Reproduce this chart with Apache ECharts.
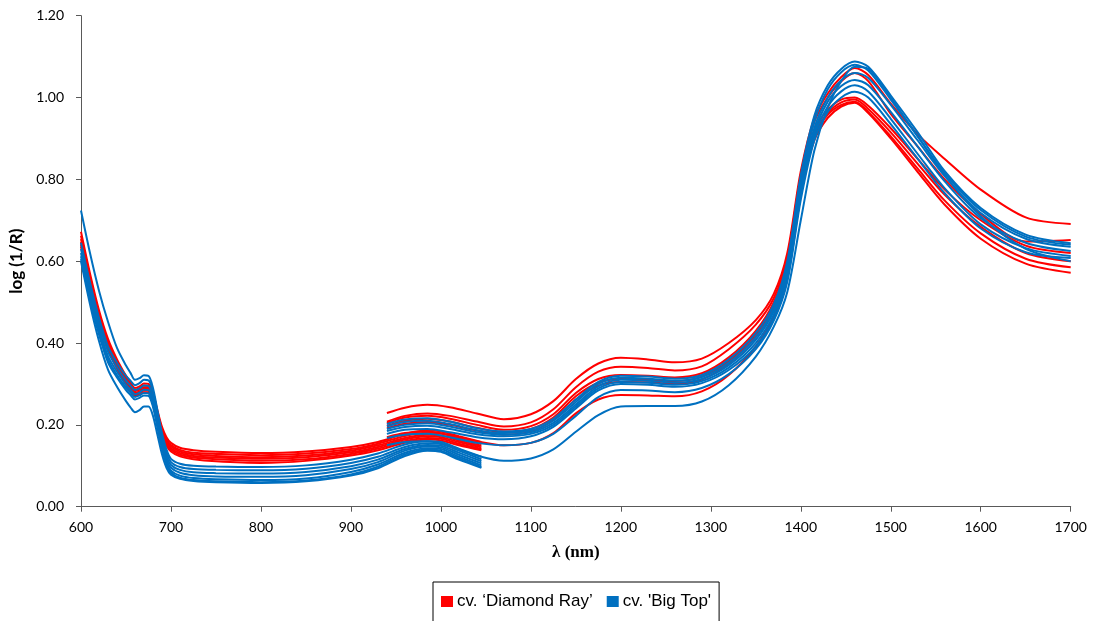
<!DOCTYPE html>
<html>
<head>
<meta charset="utf-8">
<script src="https://cdn.jsdelivr.net/npm/echarts@6/dist/echarts.min.js"></script>
<style>
html,body{margin:0;padding:0;background:#fff;}
#chart{width:1094px;height:621px;}
</style>
</head>
<body>
<div id="chart"></div>
<script>
// Wavelength grids (nm): detector 1 (VIS) and detector 2 (NIR)
const W1 = [600, 610, 620, 630, 640, 650, 655, 660, 665, 670, 675, 680, 685, 690, 695, 700, 710, 725, 750, 800, 850, 900, 930, 960, 985, 1000, 1020, 1045];
const W2 = [940, 960, 985, 1010, 1040, 1070, 1100, 1125, 1150, 1175, 1200, 1230, 1260, 1290, 1320, 1350, 1370, 1385, 1400, 1415, 1430, 1445, 1460, 1475, 1500, 1530, 1560, 1600, 1650, 1700];

const SERIES_RED = "cv. \u2018Diamond Ray\u2019";
const SERIES_BLUE = "cv. 'Big Top'";

// cv. 'Diamond Ray' samples (detector 1)
const DR1_A = [0.672, 0.570, 0.480, 0.410, 0.360, 0.320, 0.304, 0.290, 0.294, 0.301, 0.300, 0.278, 0.235, 0.195, 0.170, 0.156, 0.144, 0.138, 0.134, 0.131, 0.135, 0.146, 0.158, 0.178, 0.186, 0.184, 0.172, 0.158];
const DR2_A = [0.662, 0.562, 0.473, 0.404, 0.355, 0.315, 0.299, 0.286, 0.290, 0.296, 0.295, 0.273, 0.230, 0.190, 0.165, 0.151, 0.139, 0.132, 0.129, 0.126, 0.130, 0.141, 0.154, 0.173, 0.181, 0.179, 0.167, 0.153];
const DR3_A = [0.654, 0.555, 0.467, 0.399, 0.350, 0.310, 0.294, 0.282, 0.286, 0.292, 0.291, 0.269, 0.226, 0.186, 0.161, 0.147, 0.135, 0.128, 0.124, 0.121, 0.125, 0.137, 0.150, 0.168, 0.176, 0.174, 0.162, 0.149];
const DR4_A = [0.647, 0.549, 0.461, 0.394, 0.345, 0.306, 0.290, 0.278, 0.282, 0.288, 0.287, 0.265, 0.222, 0.182, 0.157, 0.143, 0.131, 0.124, 0.120, 0.117, 0.121, 0.133, 0.146, 0.164, 0.172, 0.170, 0.158, 0.145];
const DR5_A = [0.641, 0.543, 0.456, 0.389, 0.341, 0.302, 0.286, 0.275, 0.279, 0.284, 0.283, 0.261, 0.218, 0.178, 0.153, 0.139, 0.127, 0.120, 0.116, 0.112, 0.116, 0.129, 0.142, 0.160, 0.168, 0.166, 0.154, 0.141];
const DR6_A = [0.636, 0.538, 0.451, 0.385, 0.337, 0.298, 0.282, 0.271, 0.275, 0.280, 0.279, 0.257, 0.214, 0.174, 0.149, 0.135, 0.123, 0.116, 0.111, 0.107, 0.112, 0.125, 0.138, 0.156, 0.164, 0.162, 0.150, 0.138];

// cv. 'Diamond Ray' samples (detector 2)
const DR1_B = [0.229, 0.242, 0.249, 0.243, 0.228, 0.214, 0.226, 0.258, 0.312, 0.350, 0.364, 0.360, 0.353, 0.362, 0.400, 0.456, 0.520, 0.620, 0.820, 0.950, 1.010, 1.050, 1.072, 1.055, 0.985, 0.910, 0.850, 0.775, 0.707, 0.691];
const DR2_B = [0.208, 0.222, 0.228, 0.222, 0.208, 0.196, 0.206, 0.238, 0.292, 0.330, 0.342, 0.339, 0.333, 0.343, 0.385, 0.445, 0.510, 0.610, 0.810, 0.940, 1.000, 1.040, 1.060, 1.040, 0.960, 0.880, 0.800, 0.715, 0.648, 0.652];
const DR3_B = [0.205, 0.218, 0.222, 0.215, 0.200, 0.188, 0.197, 0.226, 0.278, 0.312, 0.322, 0.320, 0.316, 0.326, 0.365, 0.430, 0.500, 0.600, 0.800, 0.920, 0.970, 0.995, 1.000, 0.980, 0.925, 0.850, 0.775, 0.700, 0.638, 0.620];
const DR4_B = [0.198, 0.210, 0.215, 0.208, 0.193, 0.182, 0.190, 0.218, 0.270, 0.303, 0.312, 0.311, 0.307, 0.318, 0.356, 0.422, 0.492, 0.590, 0.790, 0.910, 0.962, 0.988, 0.995, 0.972, 0.915, 0.838, 0.762, 0.684, 0.620, 0.600];
const DR5_B = [0.192, 0.203, 0.207, 0.200, 0.186, 0.176, 0.184, 0.212, 0.262, 0.296, 0.305, 0.304, 0.300, 0.311, 0.350, 0.415, 0.485, 0.585, 0.785, 0.905, 0.958, 0.982, 0.990, 0.965, 0.905, 0.826, 0.748, 0.668, 0.606, 0.585];
const DR6_B = [0.170, 0.180, 0.184, 0.175, 0.160, 0.150, 0.156, 0.180, 0.228, 0.262, 0.273, 0.272, 0.270, 0.282, 0.322, 0.392, 0.465, 0.570, 0.770, 0.895, 0.950, 0.978, 0.987, 0.962, 0.900, 0.818, 0.738, 0.655, 0.594, 0.572];

// cv. 'Big Top' samples (detector 1)
const BT1_A = [0.724, 0.620, 0.528, 0.452, 0.388, 0.345, 0.327, 0.310, 0.314, 0.321, 0.320, 0.290, 0.235, 0.180, 0.140, 0.117, 0.105, 0.100, 0.098, 0.097, 0.101, 0.115, 0.130, 0.152, 0.160, 0.158, 0.142, 0.122];
const BT2_A = [0.645, 0.548, 0.462, 0.392, 0.352, 0.320, 0.308, 0.297, 0.302, 0.310, 0.309, 0.282, 0.228, 0.173, 0.132, 0.109, 0.097, 0.092, 0.090, 0.089, 0.093, 0.107, 0.122, 0.146, 0.155, 0.153, 0.137, 0.116];
const BT3_A = [0.630, 0.533, 0.448, 0.379, 0.340, 0.308, 0.296, 0.285, 0.289, 0.296, 0.295, 0.268, 0.215, 0.162, 0.123, 0.102, 0.090, 0.084, 0.082, 0.081, 0.085, 0.099, 0.115, 0.141, 0.151, 0.149, 0.132, 0.111];
const BT4_A = [0.620, 0.522, 0.437, 0.368, 0.330, 0.298, 0.286, 0.275, 0.279, 0.286, 0.285, 0.258, 0.206, 0.154, 0.116, 0.095, 0.083, 0.077, 0.074, 0.073, 0.077, 0.092, 0.109, 0.137, 0.147, 0.145, 0.127, 0.106];
const BT5_A = [0.612, 0.513, 0.428, 0.360, 0.322, 0.291, 0.279, 0.268, 0.272, 0.278, 0.277, 0.250, 0.199, 0.147, 0.109, 0.088, 0.076, 0.070, 0.067, 0.065, 0.069, 0.085, 0.103, 0.132, 0.143, 0.141, 0.122, 0.101];
const BT6_A = [0.605, 0.506, 0.421, 0.353, 0.316, 0.285, 0.273, 0.262, 0.266, 0.272, 0.271, 0.244, 0.193, 0.142, 0.104, 0.083, 0.071, 0.065, 0.062, 0.060, 0.064, 0.079, 0.098, 0.128, 0.140, 0.137, 0.118, 0.097];
const BT7_A = [0.600, 0.495, 0.405, 0.335, 0.293, 0.258, 0.243, 0.231, 0.236, 0.245, 0.245, 0.222, 0.175, 0.128, 0.095, 0.078, 0.068, 0.063, 0.060, 0.058, 0.062, 0.076, 0.094, 0.124, 0.137, 0.134, 0.115, 0.095];

// cv. 'Big Top' samples (detector 2)
const BT1_B = [0.202, 0.213, 0.216, 0.208, 0.192, 0.184, 0.190, 0.215, 0.262, 0.305, 0.320, 0.318, 0.313, 0.322, 0.360, 0.425, 0.495, 0.600, 0.810, 0.955, 1.030, 1.070, 1.088, 1.075, 1.005, 0.915, 0.820, 0.730, 0.665, 0.644];
const BT2_B = [0.196, 0.207, 0.210, 0.202, 0.187, 0.180, 0.186, 0.210, 0.256, 0.300, 0.315, 0.313, 0.308, 0.317, 0.352, 0.415, 0.485, 0.585, 0.790, 0.940, 1.020, 1.062, 1.080, 1.066, 0.995, 0.905, 0.815, 0.725, 0.660, 0.640];
const BT3_B = [0.190, 0.200, 0.204, 0.196, 0.182, 0.176, 0.182, 0.205, 0.250, 0.294, 0.310, 0.308, 0.303, 0.312, 0.346, 0.408, 0.478, 0.575, 0.780, 0.925, 1.000, 1.042, 1.060, 1.048, 0.982, 0.895, 0.808, 0.718, 0.655, 0.635];
const BT4_B = [0.185, 0.195, 0.198, 0.190, 0.177, 0.172, 0.178, 0.200, 0.245, 0.289, 0.305, 0.303, 0.298, 0.307, 0.340, 0.400, 0.470, 0.565, 0.770, 0.915, 0.990, 1.028, 1.043, 1.030, 0.965, 0.880, 0.795, 0.705, 0.645, 0.625];
const BT5_B = [0.178, 0.188, 0.190, 0.182, 0.170, 0.165, 0.172, 0.195, 0.240, 0.284, 0.300, 0.298, 0.293, 0.302, 0.334, 0.392, 0.460, 0.555, 0.760, 0.905, 0.978, 1.015, 1.030, 1.015, 0.948, 0.862, 0.778, 0.690, 0.632, 0.613];
const BT6_B = [0.168, 0.176, 0.178, 0.170, 0.156, 0.150, 0.156, 0.178, 0.222, 0.268, 0.285, 0.284, 0.280, 0.290, 0.324, 0.385, 0.455, 0.550, 0.750, 0.895, 0.965, 1.000, 1.014, 1.000, 0.935, 0.850, 0.766, 0.680, 0.622, 0.608];
const BT7_B = [0.150, 0.158, 0.160, 0.148, 0.125, 0.112, 0.118, 0.140, 0.183, 0.224, 0.245, 0.246, 0.246, 0.257, 0.297, 0.367, 0.440, 0.525, 0.700, 0.870, 0.975, 1.040, 1.075, 1.070, 1.000, 0.905, 0.810, 0.710, 0.630, 0.600];

const Y_TICKS = [0, 0.2, 0.4, 0.6, 0.8, 1.0, 1.2];
const X_TICKS = [600, 700, 800, 900, 1000, 1100, 1200, 1300, 1400, 1500, 1600, 1700];

const RED = '#FF0000';
const BLUE = '#0070C0';

const redSamples = [[DR1_A, DR1_B], [DR2_A, DR2_B], [DR3_A, DR3_B], [DR4_A, DR4_B], [DR5_A, DR5_B], [DR6_A, DR6_B]];
const blueSamples = [[BT1_A, BT1_B], [BT2_A, BT2_B], [BT3_A, BT3_B], [BT4_A, BT4_B], [BT5_A, BT5_B], [BT6_A, BT6_B], [BT7_A, BT7_B]];

function mk(name, color, grid, vals) {
  return {
    name: name,
    type: 'line',
    data: grid.map((w, i) => [w, vals[i]]),
    symbol: 'none',
    smooth: 0.3,
    lineStyle: { color: color, width: 2 },
    itemStyle: { color: color },
    emphasis: { disabled: true },
    silent: true,
    z: 2
  };
}

const series = [];
redSamples.forEach(s => { series.push(mk(SERIES_RED, RED, W1, s[0])); series.push(mk(SERIES_RED, RED, W2, s[1])); });
blueSamples.forEach(s => { series.push(mk(SERIES_BLUE, BLUE, W1, s[0])); series.push(mk(SERIES_BLUE, BLUE, W2, s[1])); });

const chart = echarts.init(document.getElementById('chart'), null, { renderer: 'canvas' });
chart.setOption({
  animation: false,
  backgroundColor: '#ffffff',
  grid: { left: 80.7, right: 23.3, top: 15.7, bottom: 114.3, containLabel: false },
  xAxis: {
    type: 'value',
    min: X_TICKS[0], max: X_TICKS[X_TICKS.length - 1], interval: 100,
    name: '\u03bb (nm)',
    nameLocation: 'middle',
    nameGap: 37,
    nameTextStyle: { fontFamily: 'Liberation Serif', fontWeight: 'bold', fontSize: 17, color: '#000' },
    axisLine: { show: true, onZero: false, lineStyle: { color: '#595959', width: 1 } },
    axisTick: { show: true, inside: false, length: 5, lineStyle: { color: '#595959' } },
    axisLabel: { fontFamily: 'Lato', fontSize: 14, color: '#000', margin: 14, formatter: v => String(v) },
    splitLine: { show: false }
  },
  yAxis: {
    type: 'value',
    min: Y_TICKS[0], max: Y_TICKS[Y_TICKS.length - 1], interval: 0.2,
    name: 'log (1/R)',
    nameLocation: 'middle',
    nameGap: 56,
    nameTextStyle: { fontFamily: 'Lato', fontWeight: 'bold', fontSize: 17, color: '#000' },
    axisLine: { show: true, lineStyle: { color: '#595959', width: 1 } },
    axisTick: { show: true, inside: false, length: 5, lineStyle: { color: '#595959' } },
    axisLabel: { fontFamily: 'Lato', fontSize: 14, color: '#000', margin: 17, formatter: v => v.toFixed(2) },
    splitLine: { show: false }
  },
  legend: {
    data: [SERIES_RED, SERIES_BLUE],
    left: 433, top: 582,
    orient: 'horizontal',
    icon: 'rect',
    itemWidth: 12, itemHeight: 11,
    itemGap: 14,
    padding: [11, 8, 20, 8],
    borderColor: '#000', borderWidth: 1,
    textStyle: { fontFamily: 'Liberation Sans', fontSize: 17, color: '#000', padding: [0, 0, 0, -1] },
    selectedMode: false
  },
  series: series
});
</script>
</body>
</html>
